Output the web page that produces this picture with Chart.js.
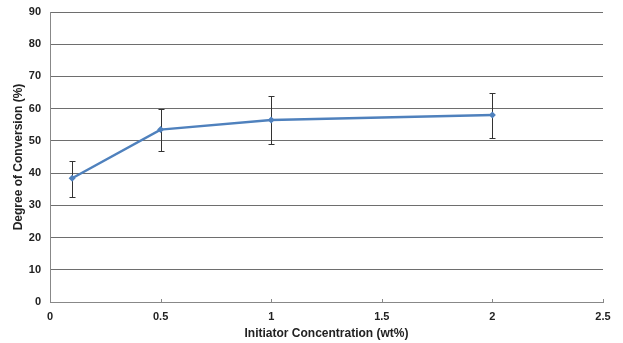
<!DOCTYPE html>
<html><head><meta charset="utf-8">
<script src="https://cdn.jsdelivr.net/npm/chart.js@4/dist/chart.umd.min.js"></script>
<style>html,body{margin:0;padding:0;background:#fff}#w{width:623px;height:343px}</style>
</head><body><div id="w"><canvas id="c"></canvas></div>
<script>
const concentrations = [0.1, 0.5, 1, 2];
const conversion = [38.4, 53.5, 56.5, 58.0];
const errUpper = [43.9, 59.8, 63.9, 65.0];
const errLower = [32.7, 46.9, 49.0, 50.9];
const xTicks = [0, 0.5, 1, 1.5, 2, 2.5];
const yTicks = [0, 10, 20, 30, 40, 50, 60, 70, 80, 90];

const errorBars = {
  id: 'errorBars',
  beforeDatasetsDraw(chart) {
    const {ctx, scales: {x, y}} = chart;
    ctx.save();
    ctx.strokeStyle = '#333';
    ctx.lineWidth = 1;
    concentrations.forEach((c, i) => {
      const px = Math.round(x.getPixelForValue(c)) + 0.5;
      const yt = Math.round(y.getPixelForValue(errUpper[i])) + 0.5;
      const yb = Math.round(y.getPixelForValue(errLower[i])) + 0.5;
      ctx.beginPath();
      ctx.moveTo(px, yt); ctx.lineTo(px, yb);
      ctx.moveTo(px - 3, yt); ctx.lineTo(px + 3, yt);
      ctx.moveTo(px - 3, yb); ctx.lineTo(px + 3, yb);
      ctx.stroke();
    });
    // small inside tick marks on x axis
    ctx.strokeStyle = '#888';
    const ay = Math.round(y.getPixelForValue(0));
    xTicks.forEach(v => {
      const px = Math.round(x.getPixelForValue(v)) + 0.5;
      ctx.beginPath();
      ctx.moveTo(px, ay); ctx.lineTo(px, ay - 3);
      ctx.stroke();
    });
    ctx.restore();
  }
};

new Chart(document.getElementById('c'), {
  type: 'scatter',
  data: {
    datasets: [{
      data: concentrations.map((c, i) => ({x: c, y: conversion[i]})),
      showLine: true,
      borderColor: '#4F81BD',
      backgroundColor: '#4F81BD',
      borderWidth: 2.5,
      pointStyle: 'rectRot',
      pointRadius: 3.5,
      pointBorderWidth: 0
    }]
  },
  options: {
    responsive: true,
    maintainAspectRatio: false,
    animation: false,
    layout: {padding: {left: 0, right: 20, top: 12, bottom: 2}},
    plugins: {legend: {display: false}, tooltip: {enabled: false}},
    scales: {
      x: {
        type: 'linear', min: 0, max: 2.5,
        afterBuildTicks: s => { s.ticks = xTicks.map(v => ({value: v})); },
        afterFit: s => { s.height = 39; },
        grid: {display: false, drawTicks: false},
        border: {display: true, color: '#888', width: 1},
        ticks: {color: '#222', font: {family: 'Liberation Sans', size: 11, weight: 'bold'}, padding: 8, maxRotation: 0,
                callback: v => String(v)},
        title: {display: true, text: 'Initiator Concentration (wt%)', color: '#222', font: {family: 'Liberation Sans', size: 12, weight: 'bold'}, padding: {top: 2, bottom: 0}}
      },
      y: {
        type: 'linear', min: 0, max: 90,
        afterBuildTicks: s => { s.ticks = yTicks.map(v => ({value: v})); },
        afterFit: s => { s.width = 50; s.paddingTop = 0; s.paddingBottom = 0; },
        grid: {color: '#6e6e6e', lineWidth: 1, drawTicks: false},
        border: {display: true, color: '#888', width: 1},
        ticks: {color: '#222', font: {family: 'Liberation Sans', size: 11, weight: 'bold'}, padding: 9},
        title: {display: true, text: 'Degree of Conversion (%)', color: '#222', font: {family: 'Liberation Sans', size: 12, weight: 'bold'}, padding: {top: 11, bottom: 0}}
      }
    }
  },
  plugins: [errorBars]
});
</script>
</body></html>
